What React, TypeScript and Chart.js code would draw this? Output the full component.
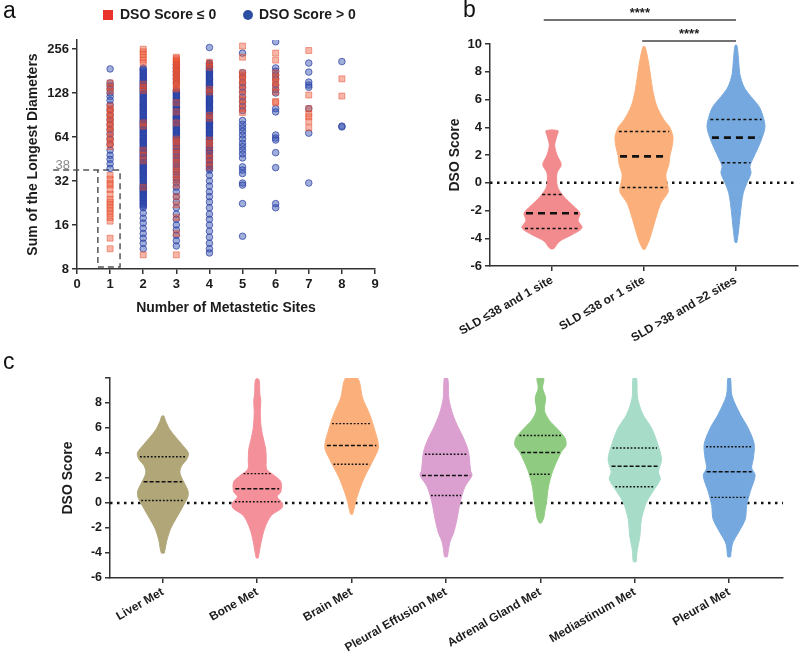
import React, { useEffect, useRef } from 'react';
import { Chart, registerables } from 'chart.js';

Chart.register(...registerables);

const FONT = "'Liberation Sans', Arial, Helvetica, sans-serif";
Chart.defaults.font.family = FONT;

// ---------------- Panel a data ----------------
const siteCounts = [1, 2, 3, 4, 5, 6, 7, 8];
const sldTicks = [8, 16, 32, 64, 128, 256];
const sldThreshold = 38;
// Sum of longest diameters, DSO score <= 0 (per number of sites)
const sldDsoLE0: number[][] = [
  [150, 140, 132, 104, 100, 96, 92, 88, 84, 80, 76, 73, 69, 64, 61, 58, 55, 35, 33, 31, 30, 28, 26, 24, 23, 22, 21, 20, 19, 18, 17, 13, 11],
  [255, 245, 235, 225, 215, 205, 147, 140, 133, 80, 76, 52, 48, 44, 29, 10],
  [225, 220, 215, 210, 205, 200, 195, 190, 185, 180, 175, 170, 165, 160, 155, 150, 145, 140, 136, 110, 95, 80, 62, 59.5, 57, 52, 49.5, 45, 43, 39, 37.5, 34.5, 33, 30, 25, 22, 18, 14, 10],
  [208, 200, 192, 136, 130, 90, 86, 61, 58, 55, 49, 46, 43, 40],
  [268, 225, 176, 170, 160, 155, 145, 135, 125, 115, 108, 100, 94],
  [240, 215, 176, 165, 155, 150, 140, 130, 112, 110],
  [250, 124, 100, 92, 88, 82, 74],
  [160, 122],
];
// Sum of longest diameters, DSO score > 0
const sldDsoGT0: number[][] = [
  [187, 150, 143, 136, 128, 121, 114, 106, 98, 90, 84, 78, 72, 67, 62, 57, 52, 48, 45, 42, 39],
  [190, 182, 174, 167, 160, 153, 147, 141, 135, 129, 124, 119, 114, 109, 105, 101, 97, 93, 89, 85, 82, 79, 76, 73, 70, 67, 64, 61.5, 59, 56.5, 54, 52, 50, 48, 46, 44, 42, 40.5, 39, 37.5, 36, 34.5, 33, 31.5, 30, 29, 28, 27, 26, 25, 24, 23, 22, 21, 19.3, 17.8, 16.5, 15.2, 14, 13, 12, 11,
    186, 178, 170, 163, 156, 150, 144, 138, 132, 126.5, 121.5, 116.5, 111.5, 107, 103, 99, 95, 91, 87, 83.5, 80.5, 77.5, 74.5, 71.5, 68.5, 65.5, 62.7, 60.2, 57.7, 55.2, 53, 51, 49, 47, 45, 43, 41.2, 39.7, 38.2, 36.7, 35.2, 33.7, 32.2, 30.7, 29.5, 28.5, 27.5, 26.5, 25.5, 24.5, 23.5, 22.5, 21.5],
  [200, 190, 180, 170, 160, 150, 134, 129, 124, 119, 114, 110, 106, 102, 98, 94, 90, 87, 84, 81, 78, 75, 72, 69, 66, 63.5, 61, 58, 55, 52, 49, 46, 43, 40, 37, 34, 31, 29, 27, 25, 23, 21, 19, 17.5, 16, 14.8, 13.6, 12.5, 11.5,
    132, 127, 122, 117, 112, 108, 104, 100, 96, 92, 88.5, 85.5, 82.5, 79.5, 76.5, 73.5, 70.5, 67.5, 64.7, 62.2, 59.5, 56.5, 53.5, 50.5, 47.5, 44.5, 41.5, 38.5, 35.5, 32.5],
  [262, 205, 198, 191, 184, 177, 170, 164, 158, 152, 146, 141, 136, 131, 126, 121, 116, 112, 108, 104, 100, 96, 92, 88, 85, 82, 79, 76, 73, 70, 67, 64, 61.5, 59, 56.5, 54, 52, 50, 48, 46, 44, 42, 40, 38, 35, 32, 29.5, 27, 25, 23, 21, 19, 17.5, 16, 14.5, 13.2, 12, 11, 10.3,
    202, 194, 187, 180, 173, 167, 161, 155, 149, 143.5, 138.5, 133.5, 128.5, 123.5, 118.5, 114, 110, 106, 102, 98, 94, 90, 86.5, 83.5, 80.5, 77.5, 74.5, 71.5, 68.5, 65.5, 62.7, 60.2, 57.7, 55.2, 53, 51, 49, 47, 45, 43, 41, 39],
  [240, 176, 165, 150, 140, 130, 120, 112, 104, 97, 83, 78, 74, 70, 66, 62, 58, 55, 52, 49, 46, 40, 38, 36, 31, 30, 22.4, 13.4],
  [287, 190, 180, 170, 160, 145, 135, 128, 100, 95, 66, 63, 61, 50, 39.5, 22.4, 21],
  [205, 178, 152, 145, 140, 100, 68, 31],
  [210, 76, 75],
];

// ---------------- Panel b data ----------------
const groupsB = ['SLD ≤38 and 1 site', 'SLD ≤38 or 1 site', 'SLD >38 and ≥2 sites'];
const levelsB: number[][] = [
  [-4.75, -4.2, -3.75, -3.25, -2.7, -2.2, -1.45, -1.0, -0.3, 0.7, 1.3, 2.0, 2.6, 2.9, 3.4, 3.75],
  [-4.8, -4.2, -3.2, -2.3, -1.45, -0.7, -0.3, 0.3, 0.7, 1.3, 1.9, 2.6, 3.3, 4.0, 4.5, 5.5, 6.5, 7.5, 8.9, 9.8],
  [-4.3, -3.5, -2.5, -1.5, -0.7, 0, 0.7, 1.2, 1.9, 3.0, 4.0, 4.8, 5.5, 6.2, 6.9, 7.8, 8.9, 9.9],
];
const densityB: number[][] = [
  [0.02, 0.087, 0.217, 0.326, 0.283, 0.304, 0.196, 0.13, 0.06, 0.054, 0.1, 0.054, 0.03, 0.033, 0.054, 0.065],
  [0.01, 0.054, 0.1, 0.14, 0.185, 0.26, 0.26, 0.24, 0.24, 0.27, 0.28, 0.305, 0.315, 0.28, 0.22, 0.14, 0.1, 0.076, 0.043, 0.01],
  [0.01, 0.027, 0.043, 0.06, 0.08, 0.12, 0.163, 0.152, 0.196, 0.27, 0.315, 0.293, 0.25, 0.163, 0.087, 0.043, 0.027, 0.01],
];
const mediansB = [-2.2, 1.9, 3.25];
const q1B = [-3.3, -0.35, 1.45];
const q3B = [-0.85, 3.7, 4.55];
const sigPairs = [[0, 2], [1, 2]];
const sigLabels = ['****', '****'];

// ---------------- Panel c data ----------------
const groupsC = ['Liver Met', 'Bone Met', 'Brain Met', 'Pleural Effusion Met', 'Adrenal Gland Met', 'Mediastinum Met', 'Pleural Met'];
const levelsC: number[][] = [
  [-4, -3, -2, -1, 0, 0.5, 1, 2, 2.5, 3, 3.5, 4, 4.7, 5.8, 6.5, 6.96],
  [-4.4, -3.1, -2.0, -1.0, -0.4, 0, 0.5, 0.9, 1.7, 2.2, 2.7, 3.5, 4.3, 5.0, 6.0, 7.3, 8.2, 8.8, 9.3, 9.9],
  [-0.9, -0.5, 0.1, 1.0, 2.1, 3.5, 4.5, 6.0, 7.1, 8.4, 10],
  [-4.3, -3.8, -3.1, -2.4, -1.3, 0, 1.3, 2.2, 2.6, 4.1, 5.2, 6, 7.1, 8.4, 10],
  [-1.6, -1.2, -0.5, 0, 1.3, 2.6, 4.1, 4.6, 5.2, 6, 6.6, 7.4, 8.4, 9.2, 10],
  [-4.7, -3.8, -2.7, -1.3, 0, 0.9, 1.9, 2.5, 3.5, 4.7, 6, 7.1, 8.4, 10],
  [-4.3, -3.6, -3.1, -2.4, -1.3, -0.2, 0.9, 2.2, 2.8, 3.5, 4.7, 6, 7.1, 8.6, 10],
];
const densityC: number[][] = [
  [0.016, 0.042, 0.085, 0.159, 0.233, 0.265, 0.265, 0.2, 0.18, 0.2, 0.254, 0.27, 0.2, 0.08, 0.032, 0.01],
  [0.01, 0.042, 0.08, 0.148, 0.26, 0.265, 0.21, 0.25, 0.25, 0.18, 0.1, 0.095, 0.09, 0.069, 0.042, 0.032, 0.037, 0.026, 0.026, 0.016],
  [0.01, 0.025, 0.042, 0.08, 0.138, 0.233, 0.285, 0.238, 0.19, 0.116, 0.063],
  [0.015, 0.025, 0.042, 0.08, 0.116, 0.148, 0.2, 0.275, 0.26, 0.238, 0.185, 0.132, 0.071, 0.029, 0.018],
  [0.01, 0.035, 0.05, 0.063, 0.085, 0.132, 0.222, 0.27, 0.26, 0.17, 0.095, 0.042, 0.055, 0.023, 0.035],
  [0.015, 0.025, 0.053, 0.07, 0.12, 0.19, 0.27, 0.25, 0.283, 0.243, 0.177, 0.085, 0.029, 0.018],
  [0.015, 0.025, 0.042, 0.095, 0.17, 0.185, 0.222, 0.275, 0.238, 0.254, 0.265, 0.2, 0.116, 0.029, 0.013],
];
const mediansC = [1.7, 1.15, 4.6, 2.2, 4.05, 2.95, 2.5];
const q1C = [0.2, 0.1, 3.1, 0.6, 2.3, 1.3, 0.45];
const q3C = [3.7, 2.35, 6.35, 3.9, 5.4, 4.4, 4.5];

// ---------------- helpers ----------------
const colorsB = ['#f28b8d', '#fbb07c', '#74a8de'];
const colorsC = ['#b0a678', '#f4909a', '#fbb07c', '#dba0cf', '#8fcb80', '#a6dcc8', '#74a8de'];
const AXIS = '#333333';
const TXT = '#1c1c1c';

function interp(lv: number[], w: number[], y: number) {
  for (let i = 0; i < lv.length - 1; i++) {
    if (y >= lv[i] && y <= lv[i + 1]) {
      const t = (y - lv[i]) / (lv[i + 1] - lv[i]);
      return w[i] + t * (w[i + 1] - w[i]);
    }
  }
  return 0;
}

function violinDatasets(levels: number[][], dens: number[][], med: number[], q1: number[], q3: number[], colors: string[], medStyle: any, qStyle: any) {
  const lines: any[] = [];
  const shapes: any[] = [];
  levels.forEach((lv, i) => {
    const right = lv.map((y, k) => ({ x: i + dens[i][k], y }));
    const left = lv.map((y, k) => ({ x: i - dens[i][k], y })).reverse();
    shapes.push({
      data: [...right, ...left, right[0]],
      showLine: true, fill: 'shape', tension: 0.3,
      backgroundColor: colors[i], borderColor: colors[i], borderWidth: 1,
      pointRadius: 0,
    });
    const qLine = (q: number, style: any) => {
      const w = interp(lv, dens[i], q) * 0.93;
      return { data: [{ x: i - w, y: q }, { x: i + w, y: q }], showLine: true, pointRadius: 0, borderColor: '#111', fill: false, ...style };
    };
    lines.push(qLine(med[i], medStyle), qLine(q1[i], qStyle), qLine(q3[i], qStyle));
  });
  return [...lines, ...shapes];
}

const gridOpts = { display: true, drawOnChartArea: false, drawTicks: true, tickLength: 5, color: AXIS, lineWidth: 1.5 };
const borderOpts = { display: true, color: AXIS, width: 1.5 };

// ---------------- chart configs ----------------
function configA(): any {
  const pts = (cols: number[][]) => cols.flatMap((col, i) => col.map((v) => ({ x: siteCounts[i], y: v })));
  const boxL = siteCounts[0] - 0.37;
  const boxR = siteCounts[0] + 0.3;
  const boxB = 8.25;
  const thresholdLabel = {
    id: 'thresholdLabel',
    afterDraw(chart: any) {
      const { ctx } = chart;
      const ys = chart.scales.y;
      const y = ys.getPixelForValue(sldThreshold);
      ctx.save();
      ctx.fillStyle = '#8a8a8a';
      ctx.font = `13px ${FONT}`;
      ctx.textAlign = 'right';
      ctx.textBaseline = 'alphabetic';
      ctx.fillText(String(sldThreshold), ys.right - 7, y - 1);
      ctx.restore();
    },
  };
  return {
    type: 'scatter',
    data: {
      datasets: [
        {
          label: 'DSO Score ≤ 0', data: pts(sldDsoLE0), pointStyle: 'rect', pointRadius: 4.2,
          pointBackgroundColor: 'rgba(235,80,45,0.42)', pointBorderColor: 'rgba(228,75,45,0.5)', pointBorderWidth: 1,
        },
        {
          label: 'DSO Score > 0', data: pts(sldDsoGT0), pointStyle: 'circle', pointRadius: 3.3,
          pointBackgroundColor: 'rgba(45,75,175,0.45)', pointBorderColor: 'rgba(40,60,160,0.7)', pointBorderWidth: 1,
        },
        {
          data: [
            { x: -0.72, y: sldThreshold }, { x: boxR, y: sldThreshold }, { x: boxR, y: boxB },
            { x: boxL, y: boxB }, { x: boxL, y: sldThreshold },
          ],
          showLine: true, pointRadius: 0, borderColor: '#555', borderWidth: 1.5, borderDash: [6, 4], clip: false,
        },
      ],
    },
    options: {
      responsive: false, animation: false, devicePixelRatio: 1, events: [],
      layout: { padding: { top: 40, right: 25, left: 0, bottom: 0 } },
      plugins: { legend: { display: false }, tooltip: { enabled: false } },
      scales: {
        x: {
          type: 'linear', min: 0, max: 9,
          ticks: { stepSize: 1, color: TXT, font: { size: 13, weight: 'bold' }, padding: 3 },
          grid: gridOpts, border: borderOpts,
          title: { display: true, text: 'Number of Metastetic Sites', color: TXT, font: { size: 14, weight: 'bold' }, padding: { top: 0, bottom: 8.6 } },
          afterFit: (s: any) => { s.height = 56; },
        },
        y: {
          type: 'logarithmic', min: 8, max: 295,
          afterBuildTicks: (s: any) => { s.ticks = sldTicks.map((v) => ({ value: v })); },
          ticks: { callback: (v: any) => String(v), color: TXT, font: { size: 13, weight: 'bold' }, padding: 3 },
          grid: gridOpts, border: borderOpts,
          title: { display: true, text: 'Sum of the Longest Diameters', color: TXT, font: { size: 14, weight: 'bold' }, padding: { top: 24.6, bottom: 0 } },
          afterFit: (s: any) => { s.width = 77; },
        },
      },
    },
    plugins: [thresholdLabel],
  };
}

function zeroLine(min: number, max: number) {
  return { data: [{ x: min, y: 0 }, { x: max, y: 0 }], showLine: true, pointRadius: 0, borderColor: '#111', borderWidth: 2.5, borderDash: [2.5, 4.5], fill: false };
}

function configB(): any {
  const xmin = -0.674, xmax = 2.674;
  const bracketLevels = [11.73, 10.22];
  const brackets = sigPairs.map(([a, b], i) => ({
    data: [{ x: a - (i === 0 ? 0.09 : 0.02), y: bracketLevels[i] }, { x: b, y: bracketLevels[i] }],
    showLine: true, pointRadius: 0, borderColor: '#444', borderWidth: 1.5, clip: false,
  }));
  const stars = {
    id: 'stars',
    afterDatasetsDraw(chart: any) {
      const { ctx } = chart;
      const ys = chart.scales.y;
      ctx.save();
      ctx.fillStyle = TXT;
      ctx.font = `bold 13px ${FONT}`;
      ctx.textAlign = 'center';
      ctx.textBaseline = 'alphabetic';
      brackets.forEach((br, i) => {
        const meta = chart.getDatasetMeta(i);
        const x = (meta.data[0].x + meta.data[1].x) / 2;
        const y = ys.getPixelForValue(bracketLevels[i]) - 3;
        ctx.fillText(sigLabels[i], x, y);
      });
      ctx.restore();
    },
  };
  return {
    type: 'scatter',
    data: {
      datasets: [
        ...brackets,
        ...violinDatasets(levelsB, densityB, mediansB, q1B, q3B, colorsB,
          { borderWidth: 2.6, borderDash: [7, 5] }, { borderWidth: 1.5, borderDash: [3, 2.5] }),
        zeroLine(xmin, 2.63),
      ],
    },
    options: {
      responsive: false, animation: false, devicePixelRatio: 1, events: [],
      layout: { padding: { top: 44, right: 2, left: 0, bottom: 0 } },
      plugins: { legend: { display: false }, tooltip: { enabled: false } },
      scales: {
        x: {
          type: 'linear', min: xmin, max: xmax,
          afterBuildTicks: (s: any) => { s.ticks = groupsB.map((_, i) => ({ value: i })); },
          ticks: { callback: (v: any) => groupsB[Math.round(v)], autoSkip: false, minRotation: 30, maxRotation: 30, color: TXT, font: { size: 12, weight: 'bold' }, padding: 2 },
          grid: gridOpts, border: borderOpts,
          afterFit: (s: any) => { s.height = 79; },
        },
        y: {
          type: 'linear', min: -6, max: 10,
          ticks: { stepSize: 2, color: TXT, font: { size: 13, weight: 'bold' }, padding: 3 },
          grid: gridOpts, border: borderOpts,
          title: { display: true, text: 'DSO Score', color: TXT, font: { size: 14, weight: 'bold' }, padding: { top: 46.6, bottom: 0 } },
          afterFit: (s: any) => { s.width = 90; },
        },
      },
    },
    plugins: [stars],
  };
}

function configC(): any {
  const xmin = -0.56, xmax = 6.57;
  return {
    type: 'scatter',
    data: {
      datasets: [
        ...violinDatasets(levelsC, densityC, mediansC, q1C, q3C, colorsC,
          { borderWidth: 1.5, borderDash: [4, 2] }, { borderWidth: 1.3, borderDash: [1.8, 1.8] }),
        zeroLine(xmin, xmax),
      ],
    },
    options: {
      responsive: false, animation: false, devicePixelRatio: 1, events: [],
      layout: { padding: { top: 33, right: 17, left: 0, bottom: 0 } },
      plugins: { legend: { display: false }, tooltip: { enabled: false } },
      scales: {
        x: {
          type: 'linear', min: xmin, max: xmax,
          afterBuildTicks: (s: any) => { s.ticks = groupsC.map((_, i) => ({ value: i })); },
          ticks: { callback: (v: any) => groupsC[Math.round(v)], autoSkip: false, minRotation: 30, maxRotation: 30, color: TXT, font: { size: 12, weight: 'bold' }, padding: 2 },
          grid: gridOpts, border: borderOpts,
          afterFit: (s: any) => { s.height = 85; },
        },
        y: {
          type: 'linear', min: -6, max: 10,
          ticks: { stepSize: 2, callback: (v: any) => (v === 10 ? '' : String(v)), color: TXT, font: { size: 12.5, weight: 'bold' }, padding: 3 },
          grid: gridOpts, border: borderOpts,
          title: { display: true, text: 'DSO Score', color: TXT, font: { size: 14, weight: 'bold' }, padding: { top: 59.6, bottom: 0 } },
          afterFit: (s: any) => { s.width = 110; },
        },
      },
    },
  };
}

function ChartCanvas({ width, height, left, top, make }: { width: number; height: number; left: number; top: number; make: () => any }) {
  const ref = useRef<HTMLCanvasElement | null>(null);
  useEffect(() => {
    if (!ref.current) return;
    const chart = new Chart(ref.current, make());
    return () => chart.destroy();
  }, []);
  return <canvas ref={ref} width={width} height={height} style={{ position: 'absolute', left, top, width, height }} />;
}

export default function App() {
  const letter = (t: string, left: number, top: number) => (
    <div style={{ position: 'absolute', left, top, fontSize: 23, lineHeight: '23px', color: '#111' }}>{t}</div>
  );
  const legendText = { position: 'absolute' as const, top: 6, fontSize: 14, lineHeight: '16px', fontWeight: 'bold' as const, color: TXT, whiteSpace: 'nowrap' as const };
  return (
    <div style={{ position: 'fixed', left: 0, top: 0, width: 800, height: 663, background: '#fff', overflow: 'hidden', fontFamily: FONT }}>
      <ChartCanvas width={400} height={325} left={0} top={0} make={configA} />
      <ChartCanvas width={400} height={345} left={400} top={0} make={configB} />
      <ChartCanvas width={800} height={318} left={0} top={345} make={configC} />
      {letter('a', 3, -1)}
      {letter('b', 463, -2)}
      {letter('c', 3, 350)}
      <div style={{ position: 'absolute', left: 103, top: 10, width: 10, height: 10, background: '#e8322b' }} />
      <div style={{ ...legendText, left: 120 }}>DSO Score ≤ 0</div>
      <div style={{ position: 'absolute', left: 243, top: 10, width: 10, height: 10, borderRadius: '50%', background: '#2d4fa3' }} />
      <div style={{ ...legendText, left: 259 }}>DSO Score &gt; 0</div>
    </div>
  );
}
